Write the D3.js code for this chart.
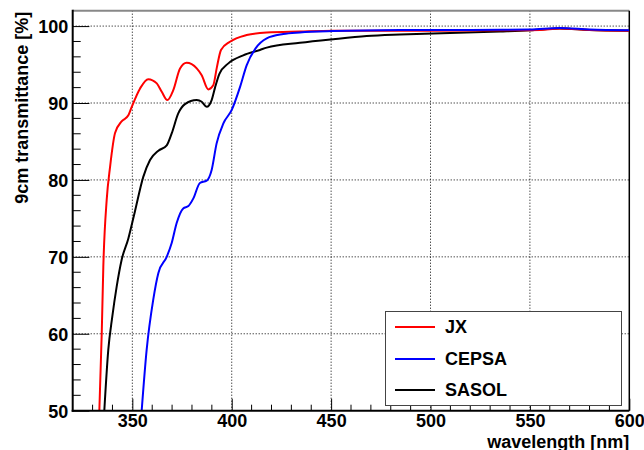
<!DOCTYPE html>
<html><head><meta charset="utf-8">
<script src="https://cdn.jsdelivr.net/npm/d3@7"></script>
<style>body{margin:0;background:#fff}svg{display:block}text{font-family:"Liberation Sans",Arial,sans-serif;font-weight:bold;font-size:18px}</style>
</head><body>
<svg id="c" width="644" height="450"></svg>
<script>
const seriesNames = ["JX", "CEPSA", "SASOL"];
const seriesColors = ["#ff0000", "#0000ff", "#000000"];
const xTicks = [350, 400, 450, 500, 550, 600];
const yTicks = [50, 60, 70, 80, 90, 100];
const jx = [[333.4,50],[334.6,60],[335.4,68.7],[337.1,77.4],[338.8,81.7],[341.3,86.1],[344.6,87.6],[348,88.4],[349.7,89.5],[353.9,91.9],[358,93.1],[362.3,92.55],[364.8,91.46],[367.6,90.38],[370.6,91.68],[374,94.5],[377.3,95.23],[382.4,94.5],[384.9,93.6],[388.2,91.77],[390.7,92.3],[392.5,94.6],[394.6,96.9],[399.1,97.96],[407.5,98.83],[417.6,99.17],[434.3,99.3],[451.1,99.4],[500,99.4],[540,99.45],[555,99.5],[565,99.7],[580,99.5],[600,99.4]];
const cepsa = [[354.7,50],[357.2,57.9],[360.5,64.4],[363.1,67.9],[367.3,70.0],[369.8,71.8],[372.3,74.4],[375.6,76.3],[378.2,76.6],[380.7,77.6],[384,79.6],[387.4,79.9],[389.9,81.3],[392.4,84.75],[395.8,87.35],[400,89.1],[404.2,92.1],[407.5,94.9],[412,97.1],[417.6,98.4],[425.9,98.96],[434.3,99.17],[451.1,99.35],[484.6,99.48],[520,99.5],[550,99.55],[565,99.75],[580,99.55],[600,99.45]];
const sasol = [[335.9,50],[337.9,57.9],[339.9,62.2],[342.1,66.1],[344.6,69.6],[348,72.4],[351.3,75.9],[355.5,80.4],[358.9,82.6],[363.1,83.8],[367.3,84.5],[369.8,86.05],[373.1,88.65],[376.5,89.86],[382.4,90.38],[384.9,90.16],[387.4,89.5],[389.9,90.38],[391.6,92.0],[393.8,93.8],[398.3,95.15],[405.8,96.2],[414.2,96.9],[417.6,97.2],[434.3,97.83],[451.1,98.3],[467.9,98.7],[484.6,98.9],[509.8,99.1],[535,99.3],[550,99.45],[565,99.7],[580,99.5],[600,99.4]];

const L = 72.7, R = 629.3, T = 10.7, B = 410.7;
const x = d3.scaleLinear().domain([320, 600]).range([L, R]);
const y = d3.scaleLinear().domain([50, 102]).range([B, T]);
const svg = d3.select("#c");

svg.append("defs").append("clipPath").attr("id","clip").append("rect")
  .attr("x", L).attr("y", T).attr("width", R-L).attr("height", B-T);

// grid
const grid = svg.append("g").attr("stroke","#000").attr("stroke-width",1).attr("stroke-dasharray","1,2");
xTicks.filter(v => v < 600).forEach(v => grid.append("line").attr("x1", x(v)).attr("x2", x(v)).attr("y1", B).attr("y2", T));
yTicks.filter(v => v > 50).forEach(v => grid.append("line").attr("y1", y(v)).attr("y2", y(v)).attr("x1", L).attr("x2", R));

// frame top/right
svg.append("line").attr("x1", L).attr("x2", R).attr("y1", T).attr("y2", T).attr("stroke","#888").attr("stroke-width",2);
svg.append("line").attr("x1", R).attr("x2", R).attr("y1", T).attr("y2", B).attr("stroke","#000").attr("stroke-width",1.5);

// curves
const line = d3.line().x(d => x(d[0])).y(d => y(d[1])).curve(d3.curveMonotoneX);
const curves = svg.append("g").attr("clip-path","url(#clip)");
[[sasol,2],[jx,0],[cepsa,1]].forEach(([data, i]) => {
  curves.append("path").datum(data).attr("d", line).attr("fill","none")
    .attr("stroke", seriesColors[i]).attr("stroke-width", 2);
});

// x axis
const xa = svg.append("g").attr("transform", `translate(0,${B})`)
  .call(d3.axisBottom(x).tickValues(xTicks).tickSize(-12).tickPadding(16.5).tickFormat(d3.format("d")));
xa.select(".domain").remove();
xa.selectAll(".tick line").attr("stroke","#000").attr("stroke-width",1);
xa.selectAll("text").attr("fill","#000").attr("font-size",18).attr("dy","0");
const xMinor = d3.range(330, 600, 10).filter(v => v % 50 !== 0);
svg.append("g").selectAll("line").data(xMinor).join("line")
  .attr("x1", d => x(d)).attr("x2", d => x(d)).attr("y1", B).attr("y2", B-6).attr("stroke","#000");
svg.append("line").attr("x1", L-1).attr("x2", R).attr("y1", B).attr("y2", B).attr("stroke","#000").attr("stroke-width",2);

// y axis
const ya = svg.append("g").attr("transform", `translate(${L},0)`)
  .call(d3.axisLeft(y).tickValues(yTicks).tickSize(-16.7).tickPadding(4.5).tickFormat(d3.format("d")));
ya.select(".domain").remove();
ya.selectAll(".tick line").attr("stroke","#000").attr("stroke-width",1);
ya.selectAll("text").attr("fill","#000").attr("font-size",18).attr("dy","0.36em");
const yMinor = d3.range(52, 102, 2).filter(v => v % 10 !== 0);
svg.append("g").selectAll("line").data(yMinor).join("line")
  .attr("y1", d => y(d)).attr("y2", d => y(d)).attr("x1", L).attr("x2", L+8).attr("stroke","#000");
svg.append("line").attr("x1", L).attr("x2", L).attr("y1", T-1).attr("y2", B+1).attr("stroke","#000").attr("stroke-width",2);

// titles
svg.append("text").attr("x", R).attr("y", 447.5).attr("text-anchor","end").text("wavelength [nm]");
svg.append("text").attr("transform", `translate(28,${T+1}) rotate(-90)`).attr("text-anchor","end").text("9cm transmittance [%]");

// legend
const lg = svg.append("g");
lg.append("rect").attr("x", 385.5).attr("y", 311.5).attr("width", 236).attr("height", 94)
  .attr("fill","#fff").attr("stroke","#444").attr("stroke-width",1);
const ly = [327, 359, 390];
seriesNames.forEach((n, i) => {
  lg.append("line").attr("x1", 395).attr("x2", 435).attr("y1", ly[i]).attr("y2", ly[i])
    .attr("stroke", seriesColors[i]).attr("stroke-width", 2);
  lg.append("text").attr("x", 445).attr("y", ly[i]).attr("dy","0.36em").attr("fill","#000").text(n);
});
</script>
</body></html>
